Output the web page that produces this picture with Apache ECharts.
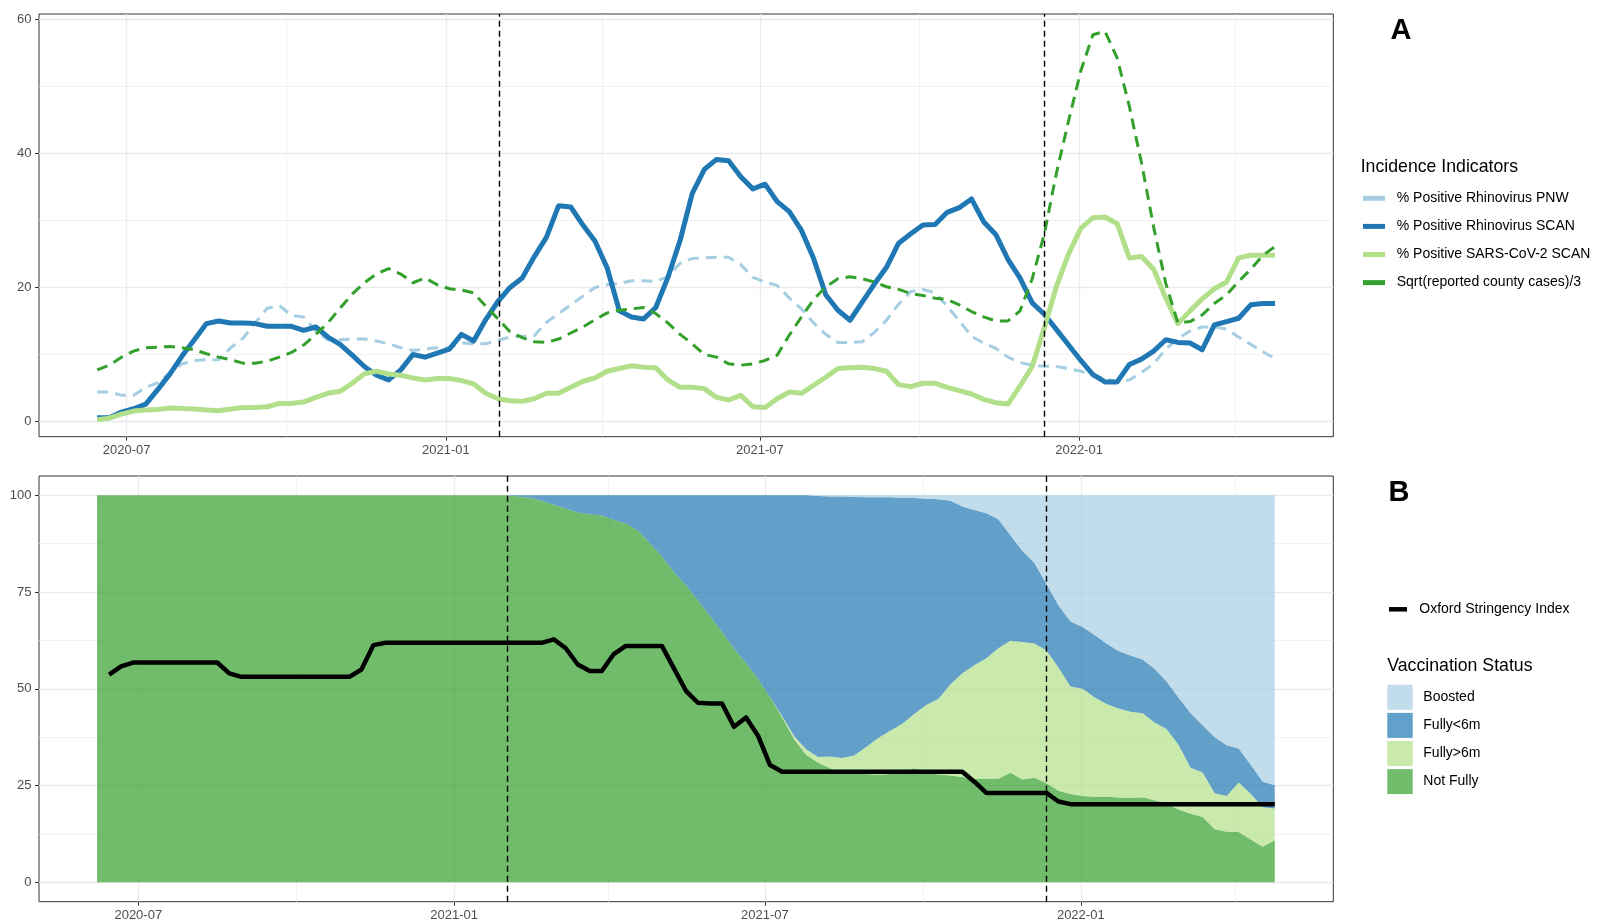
<!DOCTYPE html>
<html><head><meta charset="utf-8">
<script src="https://cdn.jsdelivr.net/npm/echarts@6/dist/echarts.min.js"></script>
<style>html,body{margin:0;padding:0;background:#fff}#c{width:1597px;height:923px}</style>
</head><body><div id="c"></div>
<script>
// ---------- DATA ----------
const topStartDate = '2020-06-14';   // weekly series (panel A lines, stringency)
const areaStartDate = '2020-06-07';  // weekly vaccination shares (panel B areas)

const rhinoPNW = [4.4,4.4,3.9,3.9,5.1,5.8,7.3,8.6,9.1,9.2,
  9.2,11.0,12.4,14.7,16.9,17.3,15.8,15.6,13.5,12.2,
  12.2,12.3,12.3,12.0,11.6,11.0,10.6,10.8,11.0,11.0,
  11.7,11.6,11.6,12.1,12.6,12.7,12.8,14.8,16.1,17.4,
  18.7,20.0,20.4,20.6,21.0,21.0,20.9,21.6,23.6,24.3,
  24.4,24.5,24.5,23.4,21.5,20.8,20.3,18.4,16.8,14.7,
  13.0,11.8,11.8,11.9,13.3,15.1,17.5,19.4,19.7,19.2,
  17.2,15.0,12.7,11.7,10.9,9.6,8.8,8.4,8.25,8.2,
  7.9,7.5,6.9,6.4,5.9,6.2,7.3,8.6,10.8,12.4,
  13.5,14.1,14.1,13.8,12.6,11.5,10.4,9.4];

const rhinoSCAN = [0.55,0.55,1.4,1.9,2.6,4.8,7.1,9.8,12.2,14.6,
  15.0,14.7,14.7,14.6,14.2,14.2,14.2,13.6,14.1,12.6,
  11.5,9.9,8.2,6.9,6.2,7.7,10.0,9.6,10.2,10.8,
  13.0,12.0,15.2,17.9,20.0,21.4,24.6,27.5,32.2,32.0,
  29.3,26.9,22.9,16.5,15.6,15.3,17.0,21.5,27.0,34.0,
  37.6,39.1,38.9,36.5,34.7,35.4,32.8,31.3,28.5,24.3,
  18.9,16.6,15.1,17.8,20.5,23.0,26.6,28.0,29.3,29.4,
  31.2,31.9,33.2,29.8,27.9,24.2,21.4,17.7,16.0,13.7,
  11.4,9.1,7.0,5.9,5.9,8.5,9.3,10.5,12.2,11.8,
  11.7,10.7,14.4,14.9,15.4,17.4,17.6,17.6];

const sarsSCAN = [0.25,0.5,1.1,1.55,1.7,1.8,2.0,1.95,1.85,1.7,
  1.6,1.85,2.1,2.1,2.2,2.7,2.7,2.9,3.6,4.2,
  4.5,5.7,7.1,7.5,7.1,6.9,6.5,6.2,6.4,6.4,
  6.1,5.6,4.2,3.4,3.1,3.0,3.4,4.2,4.2,5.1,
  6.0,6.5,7.5,7.9,8.3,8.1,8.0,6.2,5.1,5.1,
  4.9,3.6,3.2,3.9,2.2,2.1,3.4,4.4,4.2,5.4,
  6.6,7.9,8.0,8.1,7.9,7.5,5.5,5.2,5.7,5.7,
  5.1,4.6,4.1,3.3,2.8,2.6,5.3,8.2,14.0,20.2,
  25.0,28.8,30.4,30.5,29.5,24.4,24.6,22.7,18.4,14.6,
  16.5,18.3,19.8,20.8,24.4,24.8,24.8,24.8];

const countyCases = [7.7,8.4,9.6,10.5,11.0,11.1,11.2,11.0,10.7,10.1,
  9.6,9.2,8.7,8.7,9.0,9.6,10.3,11.4,13.0,14.7,
  16.9,19.0,20.7,22.0,22.8,22.0,20.7,21.4,20.4,19.8,
  19.6,19.2,17.2,15.3,13.4,12.5,11.9,11.8,12.3,13.2,
  14.1,15.2,16.2,16.6,16.8,17.0,16.1,14.7,13.0,11.6,
  10.0,9.6,8.6,8.4,8.6,9.1,9.9,12.9,15.6,18.2,
  20.1,21.3,21.6,21.3,20.8,20.1,19.7,19.1,18.8,18.4,
  18.2,17.4,16.4,15.6,15.0,15.0,16.5,21.3,28.0,37.1,
  44.9,52.3,57.7,58.2,54.2,47.0,38.6,29.0,20.6,14.7,
  14.9,15.9,17.6,18.9,20.9,22.7,24.8,26.1];

const stringency = [53.7,55.8,56.8,56.8,56.8,56.8,56.8,56.8,56.8,56.8,
  54.0,53.1,53.1,53.1,53.1,53.1,53.1,53.1,53.1,53.1,
  53.1,55.0,61.3,61.9,61.9,61.9,61.9,61.9,61.9,61.9,
  61.9,61.9,61.9,61.9,61.9,61.9,61.9,62.8,60.5,56.3,
  54.6,54.6,59.0,61.1,61.1,61.1,61.1,55.3,49.5,46.4,
  46.2,46.2,40.2,42.6,37.9,30.3,28.6,28.6,28.6,28.6,
  28.6,28.6,28.6,28.6,28.6,28.6,28.6,28.6,28.6,28.6,
  28.6,28.6,26.0,23.1,23.1,23.1,23.1,23.1,23.1,20.9,
  20.2,20.2,20.2,20.2,20.2,20.2,20.2,20.2,20.2,20.2,
  20.2,20.2,20.2,20.2,20.2,20.2,20.2,20.2];

const notFully = [100,100,100,100,100,100,100,100,100,100,
  100,100,100,100,100,100,100,100,100,100,
  100,100,100,100,100,100,100,100,100,100,
  100,100,100,100,100,
  99.7,99.4,98.6,97.6,96.6,95.6,95.1,94.8,93.6,92.7,
  90.9,87.6,84.2,80.2,76.8,72.8,68.8,64.7,60.4,56.6,
  52.6,47.8,42.6,37.0,33.0,30.9,29.5,28.2,28.0,28.0,
  27.8,28.0,28.5,29.5,28.2,27.9,27.6,27.2,26.8,26.8,
  26.8,28.3,26.6,27.0,25.6,23.7,22.8,22.3,22.1,22.1,
  21.9,21.8,22.0,21.2,20.3,18.8,17.7,16.9,13.7,13.1,
  13.0,11.1,9.2,10.9];

const fullyOver6m = [0,0,0,0,0,0,0,0,0,0,
  0,0,0,0,0,0,0,0,0,0,
  0,0,0,0,0,0,0,0,0,0,
  0,0,0,0,0,0,0,0,0,0,
  0,0,0,0,0,0,0,0,0,0,
  0,0,0,0,0,0,0,
  0.4,0.8,1.4,1.5,3.0,3.9,4.8,7.0,9.5,11.2,
  12.5,14.0,17.6,19.5,23.5,26.8,29.3,31.1,33.7,34.1,
  35.5,34.7,34.3,31.8,27.8,27.7,25.7,24.0,23.0,22.3,
  21.7,20.1,19.3,16.7,11.9,11.5,9.3,9.2,12.8,11.8,
  10.2,8.2];

const fullyUnder6m = [0,0,0,0,0,0,0,0,0,0,
  0,0,0,0,0,0,0,0,0,0,
  0,0,0,0,0,0,0,0,0,0,
  0,0,0,0,0,
  0.3,0.6,1.4,2.4,3.4,4.4,4.9,5.2,6.4,7.3,
  9.1,12.4,15.8,19.8,23.2,27.2,31.2,35.3,39.6,43.4,
  47.4,52.2,57.0,62.2,65.6,67.4,67.2,67.6,66.8,64.5,
  62.2,60.3,58.4,55.8,53.3,51.6,47.5,43.1,40.1,37.5,
  33.3,27.3,23.5,20.8,17.2,16.1,16.8,16.0,16.1,15.6,
  14.9,14.5,13.9,13.9,12.3,12.2,14.1,12.2,14.5,13.1,
  8.8,7.5,6.6,6.0];

const boosted = [0,0,0,0,0,0,0,0,0,0,
  0,0,0,0,0,0,0,0,0,0,
  0,0,0,0,0,0,0,0,0,0,
  0,0,0,0,0,0,0,0,0,0,
  0,0,0,0,0,0,0,0,0,0,
  0,0,0,0,0,0,0,0,0,0,
  0.2,0.3,0.3,0.4,0.5,0.5,0.5,0.6,0.7,0.9,
  1.0,1.4,2.9,3.8,4.6,6.2,10.3,14.4,17.5,22.9,
  28.4,32.6,34.0,36.1,38.3,40.2,41.4,42.4,44.8,48.1,
  52.3,56.3,59.4,62.5,64.6,65.4,69.6,74.0,74.9];

const xMajorTicks = ['2020-07','2021-01','2021-07','2022-01'];
const xMinorTicks = ['2020-10','2021-04','2021-10','2022-04'];
const yMajorA = [0,20,40,60];
const yMinorA = [10,30,50];
const yMajorB = [0,25,50,75,100];
const yMinorB = [12.5,37.5,62.5,87.5];
const eventDates = ['2021-02-01','2021-12-12'];

// ---------- HELPERS ----------
const FONT = '"Liberation Sans", Arial, sans-serif';
const DAY = 86400000;
const ts = s => Date.parse(s.length === 7 ? s + '-01T00:00:00Z' : s + 'T00:00:00Z');
function weekly(start, n) { const t0 = ts(start); const out = []; for (let i = 0; i < n; i++) out.push(t0 + i * 7 * DAY); return out; }
const datesA = weekly(topStartDate, rhinoSCAN.length);
const datesB = weekly(areaStartDate, notFully.length);
const pair = (dates, vals) => vals.map((v, i) => [dates[i], v]);
const pad = n => (n < 10 ? '0' : '') + n;
const ym = t => { const d = new Date(t); return d.getUTCFullYear() + '-' + pad(d.getUTCMonth() + 1); };

const majorX = xMajorTicks.map(ts);
const minorX = xMinorTicks.map(ts);
const events = eventDates.map(ts);

const X_RANGE = [
  [ts('2020-05-11') + 0.45 * DAY, ts('2022-05-27') + 0.57 * DAY],
  [ts('2020-05-04') + 0.17 * DAY, ts('2022-05-28') + 0.1 * DAY]
];

const GRID_COLOR = '#ebebeb';
// decoration axes (value type, index 2 and 3) carry ticks, labels, grid lines and event lines
function gridLines(gi, yMaj, yMin) {
  const d = [];
  majorX.forEach(v => d.push({ xAxis: v, lineStyle: { color: GRID_COLOR, width: 1.3, type: 'solid' } }));
  minorX.forEach(v => d.push({ xAxis: v, lineStyle: { color: GRID_COLOR, width: 0.7, type: 'solid' } }));
  yMaj.forEach(v => d.push({ yAxis: v, lineStyle: { color: GRID_COLOR, width: 1.3, type: 'solid' } }));
  yMin.forEach(v => d.push({ yAxis: v, lineStyle: { color: GRID_COLOR, width: 0.7, type: 'solid' } }));
  return { type: 'line', xAxisIndex: gi + 2, yAxisIndex: gi, data: [], silent: true, z: 0,
    markLine: { z: 0, silent: true, symbol: ['none', 'none'], label: { show: false }, animation: false, data: d } };
}
function eventLines(gi) {
  return { type: 'line', xAxisIndex: gi + 2, yAxisIndex: gi, data: [], silent: true, z: 30,
    markLine: { z: 30, silent: true, symbol: ['none', 'none'], label: { show: false }, animation: false,
      data: events.map(v => ({ xAxis: v })),
      lineStyle: { color: '#000', width: 1.4, type: [6, 4] } } };
}
function timeAxisCfg(gi) {
  return { type: 'time', gridIndex: gi, min: X_RANGE[gi][0], max: X_RANGE[gi][1], show: false,
    splitLine: { show: false } };
}
function labelAxisCfg(gi) {
  return { type: 'value', gridIndex: gi, min: X_RANGE[gi][0], max: X_RANGE[gi][1], position: 'bottom',
    axisLine: { show: false },
    axisTick: { show: true, length: 4, customValues: majorX, lineStyle: { color: '#333', width: 1 } },
    axisLabel: { customValues: majorX, formatter: v => ym(v), color: '#4d4d4d', fontSize: 13, fontFamily: FONT, margin: 7 },
    splitLine: { show: false }, minorTick: { show: false }, minorSplitLine: { show: false } };
}
function yAxisCfg(gi, min, max, ticks) {
  return { type: 'value', gridIndex: gi, min: min, max: max,
    axisLine: { show: false },
    axisTick: { show: true, length: 4, customValues: ticks, lineStyle: { color: '#333', width: 1 } },
    axisLabel: { customValues: ticks, color: '#4d4d4d', fontSize: 13, fontFamily: FONT, margin: 7.5 },
    splitLine: { show: false } };
}
function lineSeries(name, vals, color, width, dashed) {
  return { name: name, type: 'line', xAxisIndex: 0, yAxisIndex: 0, data: pair(datesA, vals),
    showSymbol: false, symbol: 'none', color: color, z: 12,
    lineStyle: { color: color, width: width, type: dashed ? [11, 7] : 'solid', join: 'round', cap: 'butt' } };
}
function areaSeries(name, vals, base, blended) {
  return { name: name, type: 'line', stack: 'vacc', xAxisIndex: 1, yAxisIndex: 1, data: pair(datesB, vals),
    showSymbol: false, symbol: 'none', color: blended, z: 10,
    lineStyle: { width: 0 }, areaStyle: { color: base, opacity: 0.7 } };
}

// ---------- CHART ----------
const chart = echarts.init(document.getElementById('c'), null, { renderer: 'canvas' });
const titleStyle = { fontFamily: FONT, color: '#000', fontWeight: 'normal', fontSize: 17.7, lineHeight: 20 };
const legText = pad => ({ fontFamily: FONT, color: '#000', fontSize: 14, lineHeight: 20, padding: [0, 0, 0, pad] });

chart.setOption({
  animation: false,
  backgroundColor: '#fff',
  title: [
    { text: 'A', left: 1390.5, top: 16, padding: 0, textStyle: { fontFamily: FONT, color: '#000', fontWeight: 'bold', fontSize: 29, lineHeight: 30 } },
    { text: 'B', left: 1388.5, top: 478, padding: 0, textStyle: { fontFamily: FONT, color: '#000', fontWeight: 'bold', fontSize: 29, lineHeight: 30 } },
    { text: 'Incidence Indicators', left: 1360.7, top: 156.7, padding: 0, textStyle: titleStyle },
    { text: 'Vaccination Status', left: 1387.3, top: 655.7, padding: 0, textStyle: titleStyle }
  ],
  legend: [
    { orient: 'vertical', left: 1363, top: 188.3, padding: 0, itemWidth: 22, itemHeight: 5, itemGap: 8.1,
      icon: 'rect', selectedMode: false, itemStyle: { borderWidth: 0 }, textStyle: legText(6.7),
      data: [
        { name: '% Positive Rhinovirus PNW', itemStyle: { color: '#A6CEE3' } },
        { name: '% Positive Rhinovirus SCAN', itemStyle: { color: '#1F78B4' } },
        { name: '% Positive SARS-CoV-2 SCAN', itemStyle: { color: '#B2DF8A' } },
        { name: 'Sqrt(reported county cases)/3', itemStyle: { color: '#33A02C' } }
      ] },
    { orient: 'vertical', left: 1389, top: 599.3, padding: 0, itemWidth: 18, itemHeight: 4.5,
      icon: 'rect', selectedMode: false, itemStyle: { borderWidth: 0 }, textStyle: legText(7.3),
      data: [{ name: 'Oxford Stringency Index', itemStyle: { color: '#000' } }] },
    { orient: 'vertical', left: 1387.3, top: 684.8, padding: 0, itemWidth: 25.4, itemHeight: 25, itemGap: 3.1,
      icon: 'rect', selectedMode: false, itemStyle: { borderWidth: 0 }, textStyle: legText(5.6),
      data: [
        { name: 'Boosted', itemStyle: { color: '#C1DDEB' } },
        { name: 'Fully<6m', itemStyle: { color: '#62A1CB' } },
        { name: 'Fully>6m', itemStyle: { color: '#C9E9AD' } },
        { name: 'Not Fully', itemStyle: { color: '#70BC6B' } }
      ] }
  ],
  grid: [
    { left: 39, top: 14, width: 1294.3, height: 422.7, show: true, borderColor: '#333', borderWidth: 1, backgroundColor: 'transparent' },
    { left: 39, top: 476, width: 1294.3, height: 425.7, show: true, borderColor: '#333', borderWidth: 1, backgroundColor: 'transparent' }
  ],
  xAxis: [ timeAxisCfg(0), timeAxisCfg(1), labelAxisCfg(0), labelAxisCfg(1) ],
  yAxis: [
    yAxisCfg(0, -2.27, 60.79, yMajorA),
    yAxisCfg(1, -5, 105, yMajorB)
  ],
  series: [
    gridLines(0, yMajorA, yMinorA),
    gridLines(1, yMajorB, yMinorB),
    lineSeries('% Positive Rhinovirus PNW', rhinoPNW, '#A6CEE3', 3, true),
    lineSeries('% Positive Rhinovirus SCAN', rhinoSCAN, '#1F78B4', 5, false),
    lineSeries('% Positive SARS-CoV-2 SCAN', sarsSCAN, '#B2DF8A', 5, false),
    lineSeries('Sqrt(reported county cases)/3', countyCases, '#33A02C', 3, true),
    areaSeries('Not Fully', notFully, '#33A02C', '#70BC6B'),
    areaSeries('Fully>6m', fullyOver6m, '#B2DF8A', '#C9E9AD'),
    areaSeries('Fully<6m', fullyUnder6m, '#1F78B4', '#62A1CB'),
    areaSeries('Boosted', boosted, '#A6CEE3', '#C1DDEB'),
    { name: 'Oxford Stringency Index', type: 'line', xAxisIndex: 1, yAxisIndex: 1, data: pair(weekly(topStartDate, stringency.length), stringency),
      showSymbol: false, symbol: 'none', color: '#000', z: 14,
      lineStyle: { color: '#000', width: 4.5, join: 'round' } },
    eventLines(0),
    eventLines(1)
  ]
});
</script>
</body></html>
